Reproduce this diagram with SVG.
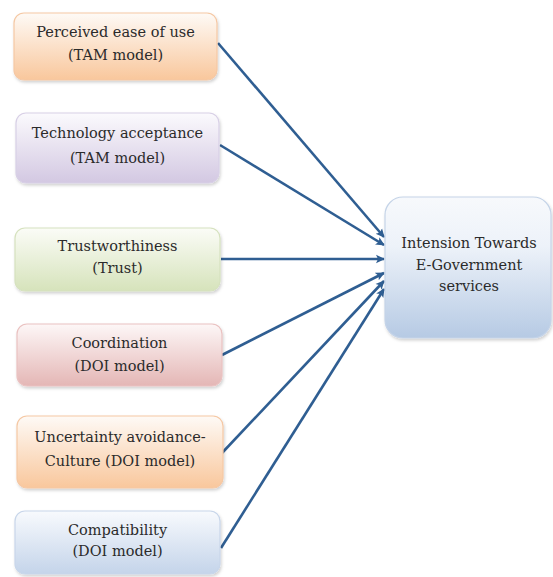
<svg xmlns="http://www.w3.org/2000/svg" width="553" height="577" viewBox="0 0 553 577">
<style>
text{font-family:"DejaVu Serif",serif;font-size:14.5px;fill:#2b2b2b;text-anchor:middle}
.box{stroke-width:1.2}
.conn line{stroke:#2F5E92;stroke-width:2.6;marker-end:url(#ah)}
</style>
<defs>
<marker id="ah" markerWidth="10" markerHeight="10" refX="8" refY="5" orient="auto" markerUnits="userSpaceOnUse">
<path d="M0,0.8 L9,5 L0,9.2 L2,5 Z" fill="#2F5E92"/>
</marker>
<filter id="sh" x="-10%" y="-10%" width="125%" height="130%">
<feDropShadow dx="1" dy="2" stdDeviation="1.5" flood-color="#000" flood-opacity="0.18"/>
</filter>
<linearGradient id="gO" x1="0" y1="0" x2="0" y2="1"><stop offset="0" stop-color="#fefaf6"/><stop offset="1" stop-color="#f9c79c"/></linearGradient>
<linearGradient id="gP" x1="0" y1="0" x2="0" y2="1"><stop offset="0" stop-color="#fbfafd"/><stop offset="1" stop-color="#d3c8e2"/></linearGradient>
<linearGradient id="gG" x1="0" y1="0" x2="0" y2="1"><stop offset="0" stop-color="#fbfcf7"/><stop offset="1" stop-color="#d6e3bb"/></linearGradient>
<linearGradient id="gR" x1="0" y1="0" x2="0" y2="1"><stop offset="0" stop-color="#fdf7f7"/><stop offset="1" stop-color="#e4b6b5"/></linearGradient>
<linearGradient id="gB" x1="0" y1="0" x2="0" y2="1"><stop offset="0" stop-color="#f8fafd"/><stop offset="1" stop-color="#c4d4ea"/></linearGradient>
<linearGradient id="gT" x1="0" y1="0" x2="0" y2="1"><stop offset="0" stop-color="#f7f9fc"/><stop offset="0.35" stop-color="#edf2f9"/><stop offset="1" stop-color="#b6cae4"/></linearGradient>
</defs>
<g class="conn" id="connectors">
<line x1="218" y1="43" x2="384" y2="237"/>
<line x1="220" y1="145" x2="384" y2="245"/>
<line x1="221" y1="259" x2="384" y2="259"/>
<line x1="222" y1="355" x2="384" y2="273"/>
<line x1="222" y1="453" x2="384" y2="281"/>
<line x1="221" y1="548" x2="384" y2="289"/>
</g>
<g id="n1"><rect class="box" x="14" y="13" width="203" height="67" rx="10" fill="url(#gO)" stroke="#f5c8a4" filter="url(#sh)"/><text x="115.5" y="37">Perceived ease of use</text><text x="115.5" y="60">(TAM model)</text></g>
<g id="n2"><rect class="box" x="16" y="113" width="203" height="70" rx="10" fill="url(#gP)" stroke="#d8d0e6" filter="url(#sh)"/><text x="117.5" y="138">Technology acceptance</text><text x="117.5" y="163">(TAM model)</text></g>
<g id="n3"><rect class="box" x="15" y="228" width="205" height="63" rx="10" fill="url(#gG)" stroke="#d6e2bf" filter="url(#sh)"/><text x="117.5" y="251">Trustworthiness</text><text x="117.5" y="273">(Trust)</text></g>
<g id="n4"><rect class="box" x="17" y="324" width="205" height="62" rx="10" fill="url(#gR)" stroke="#eac2c1" filter="url(#sh)"/><text x="119.5" y="348">Coordination</text><text x="119.5" y="371">(DOI model)</text></g>
<g id="n5"><rect class="box" x="17" y="416" width="206" height="72" rx="10" fill="url(#gO)" stroke="#f5c8a4" filter="url(#sh)"/><text x="120" y="442">Uncertainty avoidance-</text><text x="120" y="466">Culture (DOI model)</text></g>
<g id="n6"><rect class="box" x="15" y="511" width="205" height="63" rx="10" fill="url(#gB)" stroke="#c8d6ea" filter="url(#sh)"/><text x="117.5" y="535">Compatibility</text><text x="117.5" y="556">(DOI model)</text></g>
<g id="target"><rect class="box" x="385" y="197" width="166" height="141" rx="18" fill="url(#gT)" stroke="#c5d4e8" filter="url(#sh)"/><text x="469" y="248">Intension Towards</text><text x="469" y="270">E-Government</text><text x="469" y="291">services</text></g>
</svg>
